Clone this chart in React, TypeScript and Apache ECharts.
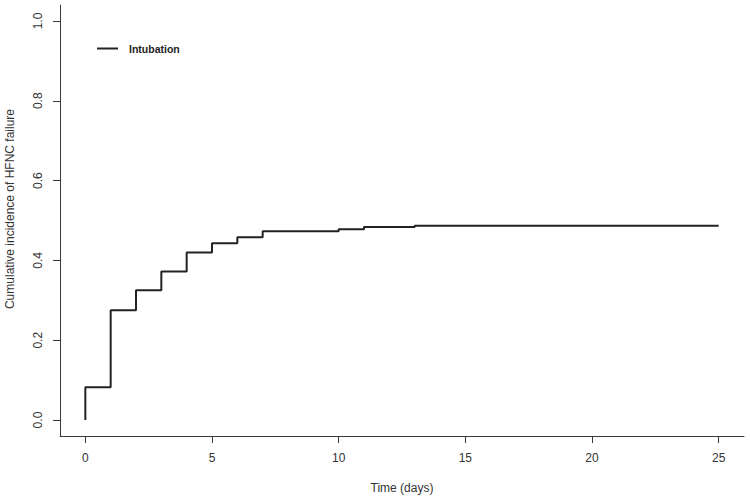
import React, { useEffect, useRef } from "react";
import * as echarts from "echarts";

const seriesName = "Intubation";
const times = [0, 0, 1, 2, 3, 4, 5, 6, 7, 10, 11, 13, 25];
const incidence = [0, 0.082, 0.275, 0.325, 0.372, 0.42, 0.443, 0.458, 0.473, 0.478, 0.484, 0.487, 0.487];
const xTicks = [0, 5, 10, 15, 20, 25];
const yTicks = [0, 0.2, 0.4, 0.6, 0.8, 1.0];
const xTitle = "Time (days)";
const yTitle = "Cumulative incidence of HFNC failure";

export default function App() {
  const ref = useRef<HTMLDivElement>(null);
  useEffect(() => {
    document.body.style.margin = "0";
    const chart = echarts.init(ref.current!, null, { renderer: "svg" });
    const font = "'Liberation Sans', Arial, sans-serif";
    const axisColor = "#3a3a3a";
    chart.setOption({
      animation: false,
      backgroundColor: "#ffffff",
      grid: { left: 60, right: 6, top: 5, bottom: 63, containLabel: false },
      legend: {
        left: 97,
        top: 43,
        padding: 0,
        itemWidth: 21,
        itemHeight: 14,
        icon: "path://M0,6 L21,6 L21,8 L0,8 Z",
        data: [seriesName],
        textStyle: {
          fontFamily: font,
          fontWeight: "bold",
          fontSize: 10.5,
          color: "#222",
          padding: [0, 0, 0, 6],
        },
        itemStyle: { color: "#222" },
      },
      xAxis: {
        type: "value",
        min: -1,
        max: 26,
        splitLine: { show: false },
        axisLine: { show: true, onZero: false, lineStyle: { color: axisColor, width: 1 } },
        axisTick: { show: true, length: 7, inside: false, customValues: xTicks, lineStyle: { color: axisColor } },
        axisLabel: {
          customValues: xTicks,
          margin: 16,
          fontFamily: font,
          fontSize: 12,
          color: "#333",
        },
        name: xTitle,
        nameLocation: "middle",
        nameGap: 46,
        nameTextStyle: { fontFamily: font, fontSize: 12, color: "#333" },
      },
      yAxis: {
        type: "value",
        min: -0.04,
        max: 1.04,
        splitLine: { show: false },
        axisLine: { show: true, onZero: false, lineStyle: { color: axisColor, width: 1 } },
        axisTick: { show: true, length: 7, inside: false, customValues: yTicks, lineStyle: { color: axisColor } },
        axisLabel: {
          customValues: yTicks,
          rotate: 90,
          margin: 16,
          fontFamily: font,
          fontSize: 12,
          color: "#333",
          formatter: (v: number) => v.toFixed(1),
        },
      },
      graphic: [
        {
          type: "text",
          x: 10,
          y: 209,
          rotation: Math.PI / 2,
          style: {
            text: yTitle,
            align: "center",
            verticalAlign: "middle",
            fontFamily: font,
            fontSize: 12,
            fill: "#333",
          },
        },
      ],
      series: [
        {
          name: seriesName,
          type: "line",
          step: "end",
          showSymbol: false,
          symbol: "none",
          data: times.map((t, i) => [t, incidence[i]]),
          lineStyle: { color: "#222", width: 2 },
          itemStyle: { color: "#222" },
        },
      ],
    });
    return () => chart.dispose();
  }, []);
  return <div ref={ref} style={{ width: 750, height: 499 }} />;
}
